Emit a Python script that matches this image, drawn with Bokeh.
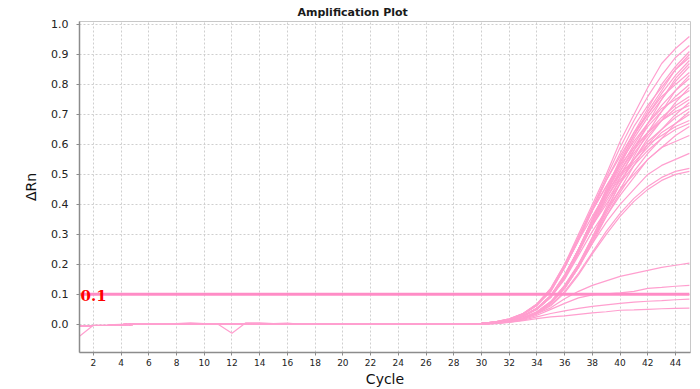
from bokeh.plotting import figure
from bokeh.models import ColumnDataSource, FixedTicker, Range1d, NumeralTickFormatter
from bokeh.core.properties import value
from bokeh.embed import file_html
from bokeh.resources import INLINE

# ---------------- data ----------------
CYCLES = list(range(1, 46))
THRESHOLD = 0.1
THRESHOLD_LABEL = "0.1"

# common baseline, cycles 1..29
BASELINE = [-0.005, -0.004, -0.004, -0.001, 0, 0, 0, 0, 0.001, 0, 0, 0, 0, 0.001, 0,
            0, 0, 0, 0, 0, 0, 0, 0, 0, 0, 0, 0, 0, 0]
# one well with a noisy baseline, cycles 1..29
NOISY_BASELINE = [-0.04, -0.003, -0.002, 0, 0, 0, 0, 0.002, 0.005, 0.002, 0, -0.03, 0.005,
                  0.005, 0.002, 0.004, 0, 0, 0, 0, 0, 0, 0, 0, 0, 0, 0, 0, 0]

# early wells, cycles 30..45
FAST_TAILS = [
    [.003, .008, .018, .036, .068, .12, .20, .30, .40, .50, .61, .70, .79, .87, .92, .96],
    [.003, .008, .017, .034, .065, .115, .19, .29, .39, .49, .59, .68, .76, .83, .89, .93],
    [.003, .007, .016, .033, .063, .11, .19, .28, .38, .48, .57, .66, .73, .79, .85, .89],
    [.003, .008, .017, .035, .066, .115, .195, .29, .39, .48, .56, .64, .70, .76, .80, .84],
    [.003, .007, .016, .034, .064, .11, .19, .28, .38, .46, .54, .61, .67, .72, .75, .78],
    [.003, .008, .018, .036, .068, .12, .20, .29, .38, .46, .53, .59, .64, .68, .71, .73],
    [.003, .007, .017, .034, .064, .115, .19, .28, .36, .44, .50, .55, .60, .63, .66, .68],
]
MID_TAILS = [
    [.002, .006, .014, .028, .053, .095, .16, .25, .35, .45, .55, .64, .72, .80, .86, .91],
    [.002, .006, .013, .027, .051, .092, .155, .24, .34, .44, .54, .63, .71, .78, .85, .90],
    [.002, .006, .014, .028, .054, .096, .165, .25, .35, .45, .54, .63, .70, .77, .83, .88],
    [.002, .005, .013, .026, .05, .09, .155, .24, .34, .44, .53, .62, .69, .75, .81, .86],
    [.002, .006, .014, .028, .053, .095, .16, .25, .35, .44, .52, .60, .67, .73, .78, .82],
    [.002, .005, .013, .027, .051, .092, .155, .24, .34, .43, .51, .59, .66, .71, .76, .80],
    [.002, .006, .014, .028, .054, .097, .165, .25, .35, .43, .51, .58, .64, .69, .73, .76],
    [.002, .005, .013, .026, .05, .09, .155, .24, .33, .42, .50, .57, .63, .68, .72, .75],
    [.002, .006, .014, .028, .053, .095, .16, .25, .34, .42, .49, .55, .61, .65, .69, .72],
    [.002, .005, .013, .027, .051, .092, .155, .24, .33, .41, .48, .54, .59, .64, .67, .70],
    [.002, .006, .014, .028, .053, .095, .16, .245, .33, .40, .47, .53, .58, .62, .65, .67],
    [.002, .005, .013, .026, .05, .09, .15, .23, .31, .38, .45, .50, .55, .59, .61, .63],
]
SLOW_TAILS = [
    [.001, .004, .01, .021, .04, .073, .125, .20, .29, .39, .49, .58, .67, .75, .82, .87],
    [.001, .004, .01, .02, .038, .07, .12, .19, .28, .38, .47, .56, .64, .71, .78, .83],
    [.001, .004, .011, .022, .042, .076, .13, .20, .29, .38, .47, .55, .62, .68, .74, .79],
    [.001, .004, .01, .021, .04, .073, .125, .195, .28, .37, .45, .53, .60, .65, .70, .74],
    [.001, .004, .01, .02, .038, .07, .12, .19, .27, .36, .44, .51, .57, .62, .67, .71],
    [.001, .004, .011, .022, .042, .076, .13, .20, .28, .36, .43, .49, .55, .59, .63, .66],
    [.001, .004, .01, .021, .04, .072, .12, .19, .27, .34, .40, .45, .50, .53, .55, .57],
    [.001, .003, .009, .019, .036, .065, .11, .17, .24, .31, .37, .42, .46, .49, .51, .52],
    [.001, .003, .009, .018, .035, .062, .105, .165, .235, .30, .36, .41, .45, .48, .50, .51],
]
LOW_TAILS = [
    [.001, .004, .01, .02, .035, .055, .085, .11, .13, .145, .16, .17, .18, .19, .197, .204],
    [.001, .003, .008, .016, .03, .05, .07, .088, .098, .102, .105, .11, .12, .123, .127, .13],
    [.001, .003, .007, .014, .025, .036, .045, .053, .06, .065, .07, .074, .077, .079, .082, .084],
    [.001, .002, .006, .012, .019, .025, .028, .033, .038, .042, .047, .048, .05, .052, .053, .054],
]

Y_TICKS = [0.0, 0.1, 0.2, 0.3, 0.4, 0.5, 0.6, 0.7, 0.8, 0.9, 1.0]
X_TICKS = list(range(2, 46, 2))

CURVE_COLOR = "#ff9fcf"
THRESH_COLOR = "#ff8cc6"

# ---------------- build curves ----------------
xs, ys = [], []
all_tails = FAST_TAILS + MID_TAILS + SLOW_TAILS + LOW_TAILS
for i, tail in enumerate(all_tails):
    base = NOISY_BASELINE if i == 12 else BASELINE
    xs.append(CYCLES)
    ys.append(base + tail)

src = ColumnDataSource(dict(xs=xs, ys=ys))

p = figure(width=700, height=389, output_backend="svg", toolbar_location=None,
           x_range=Range1d(1, 45.08), y_range=Range1d(-0.094, 1.01),
           title="Amplification Plot",
           min_border_left=79, min_border_right=10, min_border_top=21, min_border_bottom=37)

p.title.align = "left"
p.title.offset = 218
p.title.text_font = "DejaVu Sans"
p.title.text_font_size = "11px"
p.title.text_font_style = "bold"
p.title.text_color = "#1a1a1a"
p.title.standoff = 5

p.multi_line("xs", "ys", source=src, line_color=CURVE_COLOR, line_width=1.2)

# threshold
p.line([CYCLES[0], CYCLES[-1]], [THRESHOLD, THRESHOLD], line_color=THRESH_COLOR, line_width=3)
p.text(x=[CYCLES[0]], y=[THRESHOLD], text=[THRESHOLD_LABEL], text_color="#ff0000",
       text_font=value("DejaVu Serif"), text_font_style="bold", text_font_size="15px",
       text_baseline="alphabetic", text_align="left", x_offset=1, y_offset=1)

# axes
for ax in (p.xaxis[0], p.yaxis[0]):
    ax.axis_line_color = "#8c8c8c"
    ax.axis_line_width = 1.5
    ax.major_tick_line_color = "#8c8c8c"
    ax.major_tick_in = 0
    ax.major_tick_out = 3
    ax.minor_tick_line_color = None
    ax.major_label_text_font = "DejaVu Sans"
    ax.major_label_text_color = "#222222"
    ax.axis_label_text_font = "DejaVu Sans"
    ax.axis_label_text_font_size = "14px"
    ax.axis_label_text_font_style = "normal"
    ax.axis_label_text_color = "#111111"

p.xaxis.major_label_text_font_size = "9px"
p.yaxis.major_label_text_font_size = "11px"
p.xaxis.ticker = FixedTicker(ticks=X_TICKS)
p.yaxis.ticker = FixedTicker(ticks=Y_TICKS)
p.yaxis.formatter = NumeralTickFormatter(format="0.0")
p.xaxis.axis_label = "Cycle"
p.yaxis.axis_label = "ΔRn"
p.xaxis.major_label_standoff = 3
p.xaxis.axis_label_standoff = 2
p.yaxis.major_label_standoff = 8
p.yaxis.axis_label_standoff = 9

p.xgrid.ticker = FixedTicker(ticks=X_TICKS)
for g in (p.xgrid[0], p.ygrid[0]):
    g.grid_line_color = "#cfcfcf"
    g.grid_line_dash = "2 2"
    g.grid_line_width = 1

p.outline_line_color = "#c8c8c8"
p.outline_line_width = 1
p.background_fill_color = "white"
p.border_fill_color = "white"

open("out.html", "w").write(file_html(p, INLINE))
